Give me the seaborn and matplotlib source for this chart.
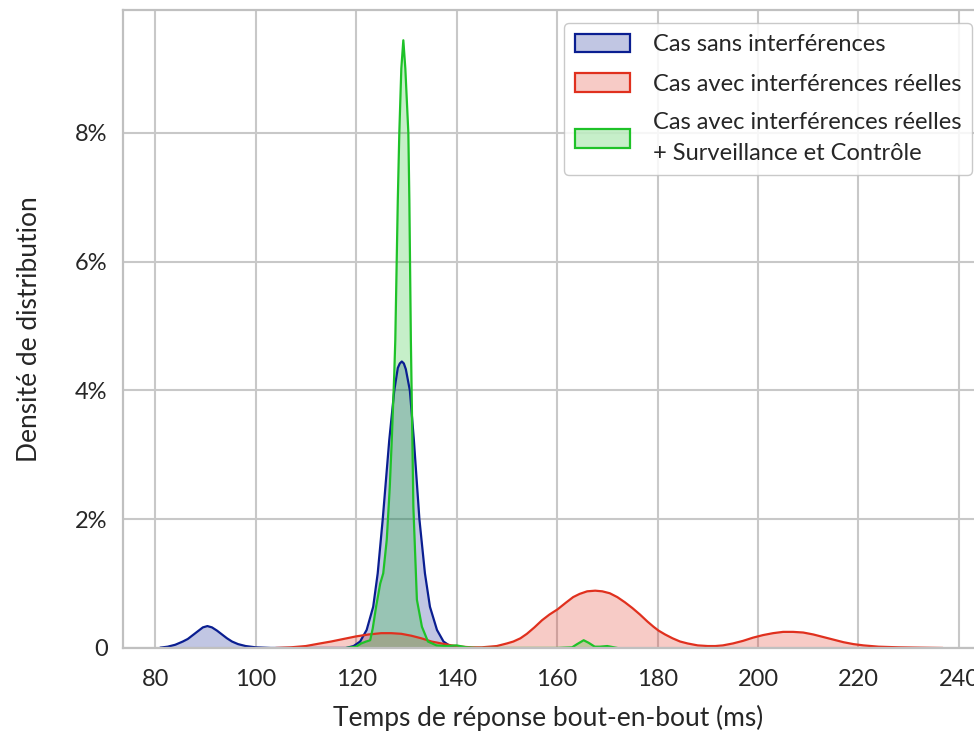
import numpy as np
import pandas as pd
import matplotlib
matplotlib.use("Agg")
import matplotlib.pyplot as plt
import seaborn as sns
from matplotlib.patches import Patch
from matplotlib.ticker import FuncFormatter

# density curves (x in ms, density in %)
x_sans = [81, 82.5, 84, 85.5, 86.5, 87.5, 88.5, 89.5, 90.4, 91.3, 92.3, 93.3, 94.3, 95.3, 96.5, 98, 100,
          103, 110, 118, 119.5, 120.8, 122.1, 123.4, 124.3, 125.3, 126.6, 127.6, 128.3, 128.7, 129.1,
          129.5, 129.9, 130.7, 131.5, 132.6, 133.7, 134.7, 136.1, 137.4, 138.7, 140.5]
d_sans = [0.005, 0.02, 0.05, 0.10, 0.14, 0.20, 0.26, 0.32, 0.34, 0.32, 0.27, 0.21, 0.15, 0.10, 0.06, 0.03,
          0.01, 0, 0, 0, 0.03, 0.10, 0.28, 0.64, 1.16, 2.0, 3.23, 4.0, 4.35, 4.42, 4.45,
          4.42, 4.33, 4.0, 3.23, 2.0, 1.16, 0.64, 0.28, 0.10, 0.03, 0]

x_reel = [104, 107, 110, 112.8, 115, 117.5, 120, 122.5, 125, 127, 129, 131, 133, 135, 137, 139, 141, 143,
          145, 146.5, 148, 150, 151.3, 152.7, 154, 155.5, 157, 158.5, 160.1, 161.7, 163.2, 164.5, 166,
          167.6, 169, 170.5, 172, 173.5, 175, 176.5, 178, 179.2, 180.2, 181.5, 183, 184.5, 186, 188,
          190, 191.5, 193, 195, 197, 199, 201, 203, 205, 207, 209, 211, 213, 215, 217, 219, 221, 224,
          228, 232, 236.8]
d_reel = [0, 0.01, 0.03, 0.07, 0.10, 0.14, 0.18, 0.21, 0.23, 0.23, 0.22, 0.19, 0.15, 0.10, 0.07, 0.04,
          0.02, 0.01, 0.01, 0.02, 0.03, 0.07, 0.10, 0.15, 0.22, 0.32, 0.43, 0.52, 0.60, 0.70, 0.79, 0.84,
          0.88, 0.89, 0.88, 0.85, 0.79, 0.71, 0.62, 0.52, 0.41, 0.33, 0.27, 0.21, 0.15, 0.10, 0.07, 0.04,
          0.03, 0.03, 0.04, 0.07, 0.11, 0.16, 0.20, 0.23, 0.25, 0.25, 0.24, 0.21, 0.17, 0.13, 0.09, 0.06,
          0.04, 0.02, 0.01, 0.005, 0]

x_sc = [118, 120, 121, 122, 122.8, 123.3, 124, 124.8, 125.4, 126.1, 126.7, 127.1, 127.6, 127.8, 128.3,
        128.6, 129.0, 129.4, 129.8, 130.4, 130.6, 130.9, 131.4, 132.1, 133.1, 134.3, 136, 138, 140,
        142, 144, 160, 163, 164, 165.3, 166.3, 167.5, 168.5, 170, 172]
d_sc = [0, 0.02, 0.07, 0.10, 0.12, 0.30, 0.65, 1.0, 1.16, 1.68, 2.5, 3.23, 4.27, 4.78, 6.96,
        8.0, 9.0, 9.44, 9.0, 8.0, 6.96, 4.78, 2.19, 0.75, 0.33, 0.10, 0.04, 0.03, 0.04,
        0.01, 0, 0, 0.01, 0.06, 0.12, 0.08, 0.02, 0.02, 0.03, 0]

labels = ["Cas sans interférences",
          "Cas avec interférences réelles",
          "Cas avec interférences réelles\n+ Surveillance et Contrôle"]
colors = ["#0a1e91", "#e0301e", "#1ec228"]
series = [(x_sans, d_sans), (x_reel, d_reel), (x_sc, d_sc)]

sns.set_theme(style="whitegrid", rc={
    "grid.color": "#c8c8c8", "grid.linewidth": 1.5,
    "axes.edgecolor": "#c0c0c0", "axes.linewidth": 1.6,
})
plt.rcParams["font.family"] = ["Lato", "DejaVu Sans"]

fig = plt.figure(figsize=(9.74, 7.36), dpi=100)
ax = fig.add_axes([0.1263, 0.1196, 0.8737, 0.8668])

for (xs, ds), lab, col in zip(series, labels, colors):
    df = pd.DataFrame({"x": xs, "d": ds})
    sns.lineplot(data=df, x="x", y="d", color=col, linewidth=1.6, ax=ax, sort=True)
    ax.fill_between(df["x"], df["d"], color=col, alpha=0.25, linewidth=0)

ax.set_xlim(73.6, 243.0)
ax.set_ylim(0, 9.91)
ax.set_xticks(np.arange(80, 241, 20))
ax.set_yticks([0, 2, 4, 6, 8])
ax.yaxis.set_major_formatter(FuncFormatter(lambda v, p: "0" if v == 0 else f"{v:.0f}%"))
ax.tick_params(labelsize=17, length=0)
ax.tick_params(axis="x", pad=15)
ax.tick_params(axis="y", pad=11)
ax.set_xlabel("Temps de réponse bout-en-bout (ms)", fontsize=19, labelpad=11)
ax.set_ylabel("Densité de distribution", fontsize=19, labelpad=24)
for s in ["top", "left", "bottom"]:
    ax.spines[s].set_visible(True)
ax.spines["right"].set_visible(False)

handles = [Patch(facecolor=matplotlib.colors.to_rgba(c, 0.25), edgecolor=c, linewidth=1.6) for c in colors]
leg = ax.legend(handles, labels, loc="upper right", bbox_to_anchor=(0.9976, 0.9796), borderaxespad=0,
                fontsize=17, handlelength=2.35, handleheight=0.85, handletextpad=0.95,
                labelspacing=0.75, borderpad=0.45, frameon=True, edgecolor="#c0c0c0", framealpha=0.85)
for t in leg.get_texts():
    t.set_linespacing(1.6)

plt.savefig("out.png", dpi=100)
